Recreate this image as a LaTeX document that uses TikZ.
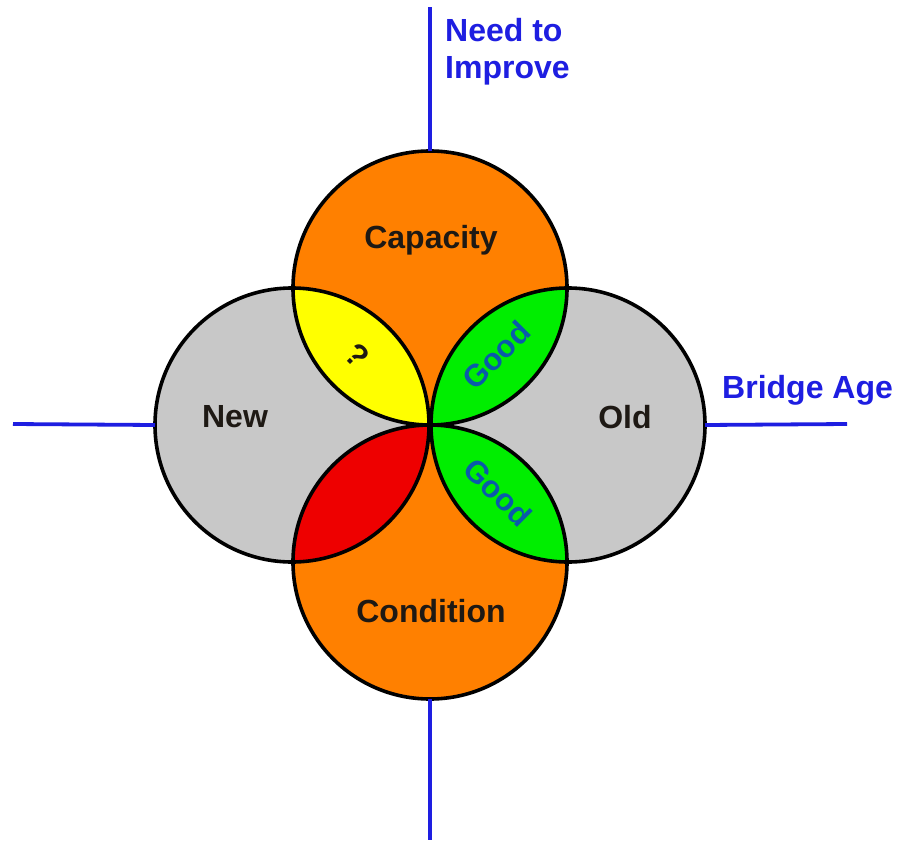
\documentclass[tikz,border=0pt]{standalone}
\usepackage{fontspec}
\setmainfont{Liberation Sans}
\definecolor{axisblue}{RGB}{30,30,225}
\definecolor{petalgray}{RGB}{200,200,200}
\definecolor{petalorange}{RGB}{255,128,0}
\definecolor{lensyellow}{RGB}{255,255,0}
\definecolor{lensgreen}{RGB}{0,238,0}
\definecolor{lensred}{RGB}{238,0,0}
\definecolor{goodblue}{RGB}{10,90,170}
\definecolor{labelink}{RGB}{30,25,20}
\begin{document}
\begin{tikzpicture}[x=1pt,y=-1pt,
  ring/.style={draw=black,line width=3.6pt},
  axis/.style={draw=axisblue,line width=3.8pt},
  lbl/.style={font=\fontsize{32}{36}\selectfont\bfseries,text=labelink,inner sep=0pt},
  axislbl/.style={font=\fontsize{32}{36}\selectfont\bfseries,text=axisblue,align=left,inner sep=0pt},
  goodlbl/.style={font=\fontsize{31}{34}\selectfont\bfseries,text=goodblue,inner sep=0pt}]
\useasboundingbox (0,0) rectangle (899,843);
\fill[white] (0,0) rectangle (899,843);

% circle centres
\coordinate (cT) at (430,288);
\coordinate (cB) at (430,562);
\coordinate (cL) at (292,425);
\coordinate (cR) at (568,425);

% base fills
\fill[petalgray] (cL) circle[radius=137pt] (cR) circle[radius=137pt];
\fill[petalorange] (cT) circle[radius=137pt] (cB) circle[radius=137pt];

% overlap lenses
\begin{scope}
  \clip (cT) circle[radius=137pt];
  \fill[lensyellow] (cL) circle[radius=137pt];
  \fill[lensgreen] (cR) circle[radius=137pt];
\end{scope}
\begin{scope}
  \clip (cB) circle[radius=137pt];
  \fill[lensred] (cL) circle[radius=137pt];
  \fill[lensgreen] (cR) circle[radius=137pt];
\end{scope}

% outlines
\draw[ring] (cL) circle[radius=137pt] (cR) circle[radius=137pt]
            (cT) circle[radius=137pt] (cB) circle[radius=137pt];

% axes
\coordinate (capTop) at (430,151);
\coordinate (condBot) at (430,699);
\coordinate (newLeft) at (155,425);
\coordinate (oldRight) at (705,425);
\coordinate (upEnd) at (430,7);
\coordinate (downEnd) at (430,840);
\coordinate (leftEnd) at (13,424);
\coordinate (rightEnd) at (847,424);
\draw[axis] (capTop) -- (upEnd);
\draw[axis] (condBot) -- (downEnd);
\draw[axis] (newLeft) -- (leftEnd);
\draw[axis] (oldRight) -- (rightEnd);

% labels
\node[lbl,anchor=base] (capacity) at (431,248) {Capacity};
\node[lbl,anchor=base] (condition) at (431,622) {Condition};
\node[lbl,anchor=base] (new) at (235,427) {New};
\node[lbl,anchor=base] (old) at (625,428) {Old};
\node[lbl,rotate=-45] (unknown) at (357,356) {?};
\node[goodlbl,rotate=45] (goodup) at (496,355) {Good};
\node[goodlbl,rotate=-45] (gooddown) at (498,492) {Good};
\node[axislbl,anchor=base west] (improve) at (445,78) {Need to\\Improve};
\node[axislbl,anchor=base west] (age) at (722,398) {Bridge Age};
\end{tikzpicture}
\end{document}
